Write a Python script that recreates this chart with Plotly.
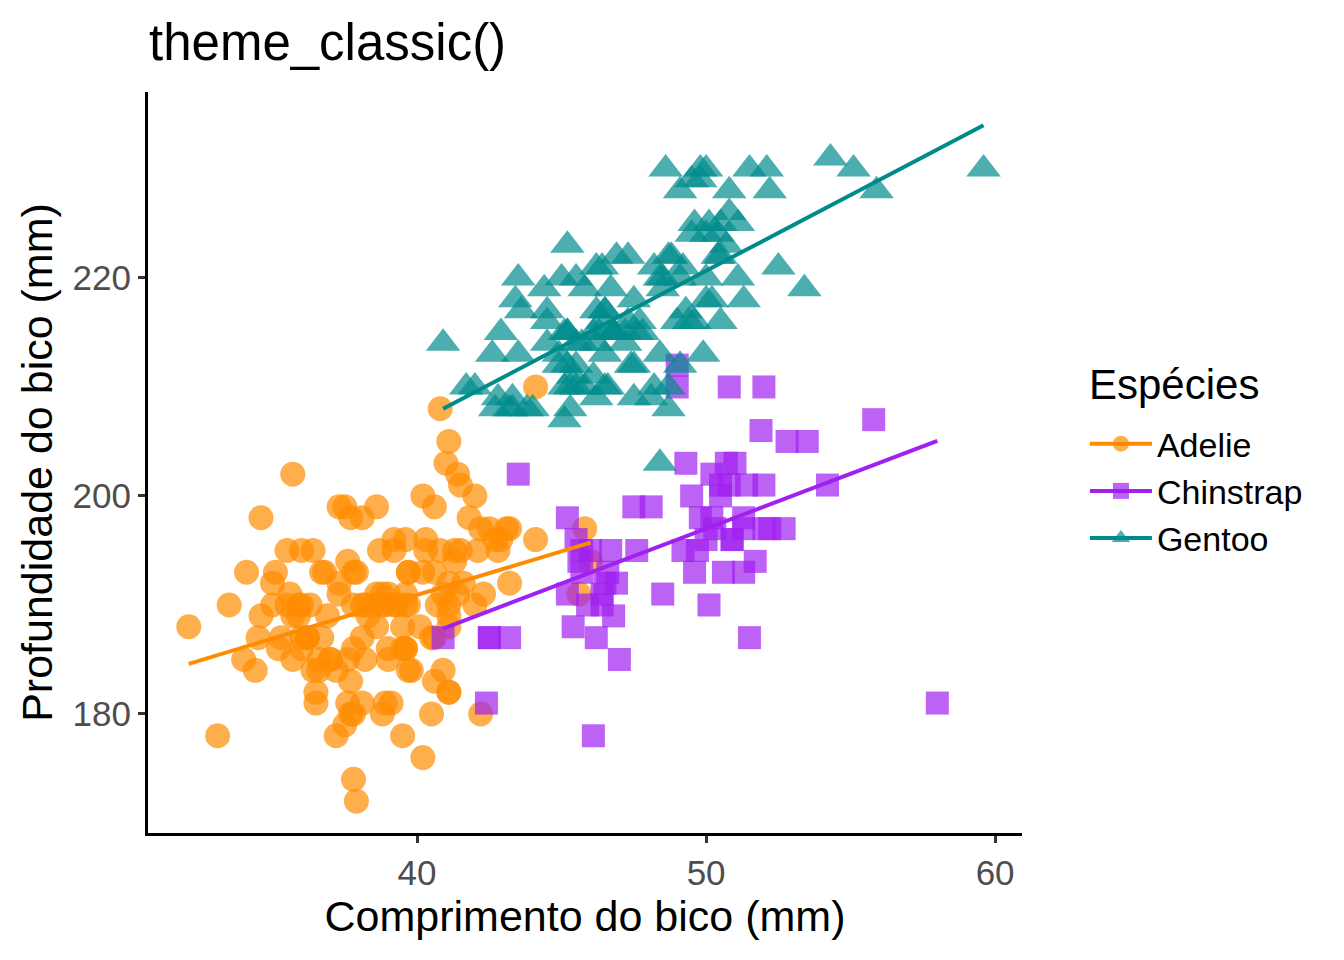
import numpy as np
import plotly.graph_objects as go

# ---- data (bill length mm, y value mm) ----
adelie_x = [39.1,39.5,40.3,36.7,39.3,38.9,39.2,34.1,42.0,37.8,37.8,41.1,38.6,34.6,36.6,38.7,42.5,34.4,46.0,
            37.8,37.7,35.9,38.2,38.8,35.3,40.6,40.5,37.9,40.5,39.5,37.2,39.5,40.9,36.4,39.2,38.8,42.2,37.6,
            39.8,36.5,40.8,36.0,44.1,37.0,39.6,41.1,37.5,36.0,42.3,39.6,40.1,35.0,42.0,34.5,41.4,39.0,40.6,
            36.5,37.6,35.7,41.3,37.6,41.1,36.4,41.6,35.5,41.1,35.9,41.8,33.5,39.7,39.6,45.8,35.5,42.8,40.9,
            37.2,36.2,42.1,34.6,42.9,36.7,35.1,37.3,41.3,36.3,36.9,38.3,38.9,35.7,41.1,34.0,39.6,36.2,40.8,
            38.1,40.3,33.1,43.2,35.0,41.0,37.7,37.8,37.9,39.7,38.6,38.2,38.1,43.2,38.1,45.6,39.7,42.2,39.6,
            42.7,38.6,37.3,35.7,41.1,36.2,37.7,40.2,41.4,35.2,40.6,38.8,41.5,39.0,44.1,38.5,43.1,36.8,37.5,
            38.1,41.1,35.6,40.2,37.0,39.7,40.2,40.6,32.1,40.7,37.3,39.0,39.2,36.6,36.0,37.8,36.0,41.5]
adelie_y = [181,186,195,193,190,181,195,193,190,186,180,182,191,198,185,195,197,184,194,
            174,180,189,185,180,187,183,187,172,180,178,178,188,184,195,196,190,180,181,
            184,182,195,186,196,185,190,182,179,190,191,186,188,190,200,187,191,186,193,
            181,194,185,195,185,192,184,192,195,188,190,198,190,190,196,197,190,195,191,
            184,187,195,189,196,187,193,191,194,190,189,189,190,202,205,185,186,187,208,
            190,196,178,192,192,203,183,190,193,184,199,190,181,197,198,191,193,197,191,
            196,188,199,189,189,187,198,176,202,186,199,191,195,191,210,190,197,193,199,
            187,190,191,200,185,193,193,187,188,190,192,185,190,184,195,193,187,201]

chinstrap_x = [46.5,50.0,51.3,45.4,52.7,45.2,46.1,51.3,46.0,51.3,46.6,51.7,47.0,52.0,45.9,50.5,50.3,58.0,
               46.4,49.2,42.4,48.5,43.2,50.6,46.7,52.0,50.5,49.5,46.4,52.8,40.9,54.2,42.5,51.0,49.7,47.5,
               47.6,52.0,46.9,53.5,49.0,46.2,50.9,45.5,50.9,50.8,50.1,49.0,51.5,49.8,48.1,51.4,45.7,50.7,
               42.5,52.2,45.2,49.3,50.2,45.6,51.9,46.8,45.7,55.8,43.5,49.6,50.8,50.2]
chinstrap_y = [192,196,193,188,197,198,178,197,195,198,193,194,185,201,190,201,197,181,
               190,195,181,191,187,193,195,197,200,200,191,205,187,201,187,203,195,199,
               195,210,192,205,210,187,196,196,196,201,190,212,187,198,199,201,193,203,
               187,197,191,203,202,194,206,189,195,207,202,193,210,198]

gentoo_x = [46.1,50.0,48.7,50.0,47.6,46.5,45.4,46.7,43.3,46.8,40.9,49.0,45.5,48.4,45.8,49.3,42.0,49.2,
            46.2,48.7,50.2,45.1,46.5,46.3,42.9,46.1,44.5,47.8,48.2,50.0,47.3,42.8,45.1,59.6,49.1,48.4,
            42.6,44.4,44.0,48.7,42.7,49.6,45.3,49.6,50.5,43.6,45.5,50.5,44.9,45.2,46.6,48.5,45.1,50.1,
            46.5,45.0,43.8,45.5,43.2,50.4,45.3,46.2,45.7,54.3,45.8,49.8,46.2,49.5,43.5,50.7,47.7,46.4,
            48.2,46.5,46.4,48.6,47.5,51.1,45.2,45.2,49.1,52.5,47.4,50.0,44.9,50.8,43.4,51.3,47.5,52.1,
            47.5,52.2,45.5,49.5,44.5,50.8,49.4,46.9,48.4,51.1,48.5,55.9,47.2,49.1,47.3,46.8,41.7,53.4,
            43.3,48.1,50.5,49.8,43.5,51.5,46.2,55.1,44.5,48.8,47.2,46.8,50.4,45.2,49.9]
gentoo_y = [211,230,210,218,215,210,211,219,209,215,214,216,214,213,210,217,210,221,
            209,222,218,215,213,215,215,215,216,215,210,220,222,209,207,230,220,220,
            213,219,208,208,208,225,210,216,222,217,210,225,213,215,210,220,210,225,
            217,220,208,220,208,224,208,221,214,231,219,230,214,229,220,223,216,221,
            221,217,216,230,209,220,215,223,212,221,212,224,212,228,218,218,212,230,
            218,228,212,224,214,226,216,222,203,225,219,228,215,228,216,215,210,219,
            208,209,216,229,213,230,217,230,217,222,214,215,222,212,213]

species = ["Adelie", "Chinstrap", "Gentoo"]
xs = [adelie_x, chinstrap_x, gentoo_x]
ys = [adelie_y, chinstrap_y, gentoo_y]
colors = ["#FF8C00", "#A020F0", "#008B8B"]
symbols = ["circle", "square", "triangle-up"]
sizes = [25, 23, 30]

FONT = "Liberation Sans, Arial, sans-serif"
fig = go.Figure()

for name, x, y, c, sym, s in zip(species, xs, ys, colors, symbols, sizes):
    fig.add_trace(go.Scatter(x=x, y=y, mode="markers", name=name, legendgroup=name,
                             showlegend=False,
                             marker=dict(color=c, symbol=sym, size=s, opacity=0.7, line=dict(width=0))))

for name, x, y, c in zip(species, xs, ys, colors):
    xa = np.array(x); ya = np.array(y)
    b, a = np.polyfit(xa, ya, 1)
    xl = np.array([xa.min(), xa.max()])
    fig.add_trace(go.Scatter(x=xl, y=a + b * xl, mode="lines", legendgroup=name, showlegend=False,
                             line=dict(color=c, width=4)))

# legend entries (line + marker, like ggplot key)
for name, c, sym in zip(species, colors, symbols):
    fig.add_trace(go.Scatter(x=[None], y=[None], mode="lines+markers", name=name, legendgroup=name,
                             line=dict(color=c, width=4),
                             marker=dict(color=c, symbol=sym, size=16, opacity=0.7)))

axis_common = dict(showline=True, linecolor="black", linewidth=3, ticks="outside",
                   tickcolor="#333333", tickwidth=2.5, ticklen=7, showgrid=False, zeroline=False,
                   tickfont=dict(family=FONT, size=35, color="#4D4D4D"), mirror=False)

fig.update_layout(
    width=1344, height=960,
    paper_bgcolor="white", plot_bgcolor="white",
    margin=dict(l=140, r=330, t=84, b=135),
    title=dict(text="theme_classic()", x=141/1344, xanchor="left", y=1-34/960, yanchor="middle",
               font=dict(family=FONT, size=51, color="black")),
    xaxis=dict(range=[30.69, 60.93], tickvals=[40, 50, 60],
               title=dict(text="Comprimento do bico (mm)", font=dict(family=FONT, size=43, color="black"),
                          standoff=8),
               **axis_common),
    yaxis=dict(range=[169.08, 237.06], tickvals=[180, 200, 220],
               title=dict(text="Profundidade do bico (mm)", font=dict(family=FONT, size=43, color="black"),
                          standoff=7),
               **axis_common),
    legend=dict(font=dict(family=FONT, size=34, color="black"),
                x=1.072, xanchor="left", y=0.564, yanchor="top", tracegroupgap=0,
                itemwidth=62, bgcolor="rgba(0,0,0,0)"),
    showlegend=True,
    annotations=[dict(text="Espécies", xref="paper", yref="paper", x=1.0744, y=0.6046,
                      xanchor="left", yanchor="middle", showarrow=False,
                      font=dict(family=FONT, size=42, color="black"))],
)

fig.write_html("out.html")
